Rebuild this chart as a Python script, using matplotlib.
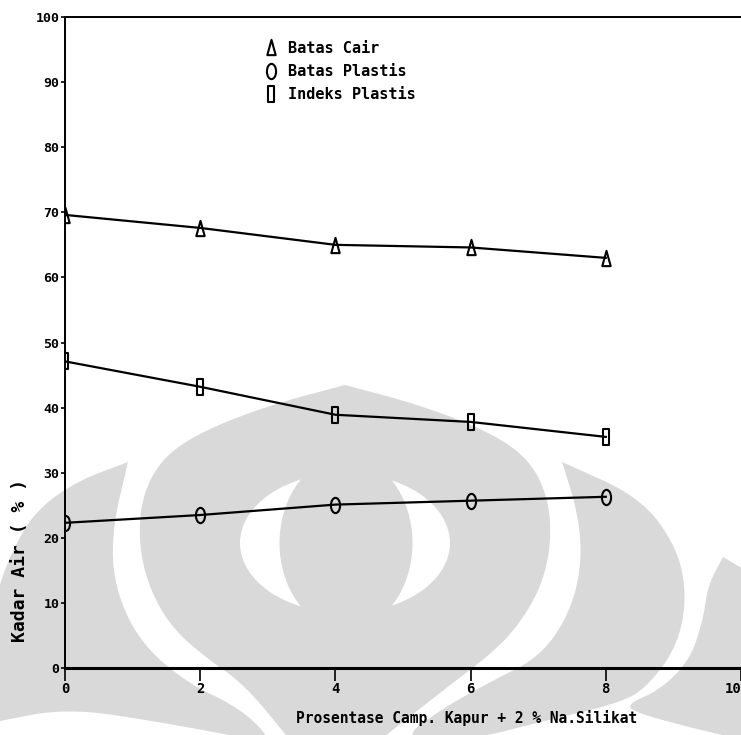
import matplotlib
matplotlib.use("Agg")
import matplotlib.pyplot as plt
import numpy as np
from matplotlib.path import Path
from matplotlib.patches import Polygon, Ellipse

# Data
x_pct = [0, 2, 4, 6, 8]
batas_cair = [69.6, 67.6, 65.0, 64.6, 63.0]
batas_plastis = [22.3, 23.5, 25.1, 25.7, 26.3]
indeks_plastis = [47.1, 43.2, 38.9, 37.8, 35.5]

series_labels = ["Batas Cair", "Batas Plastis", "Indeks Plastis"]
x_ticks = [0, 2, 4, 6, 8, 10]
y_ticks = list(range(0, 101, 10))

FONT = dict(family="DejaVu Sans Mono", weight="bold")
GRAY = "#d9d9d9"


def smooth(pts, keep=(), n=3):
    # Chaikin corner cutting on a closed outline; indices in keep stay sharp
    p = [np.array(q, float) for q in pts]
    sharp = [i in keep for i in range(len(p))]
    for _ in range(n):
        out, flags = [], []
        for i in range(len(p)):
            a, b = p[i], p[(i + 1) % len(p)]
            if sharp[i]:
                out.append(a)
                flags.append(True)
            out.append(0.75 * a + 0.25 * b)
            flags.append(False)
            out.append(0.25 * a + 0.75 * b)
            flags.append(False)
        p, sharp = out, flags
    return np.array(p)


# tall, narrow markers like the dot-matrix print
_c = Path.unit_circle()
m_circle = Path(_c.vertices * [0.6, 1.0], _c.codes)
m_square = Path([(-0.45, -1), (0.45, -1), (0.45, 1), (-0.45, 1), (-0.45, -1)],
                [Path.MOVETO, Path.LINETO, Path.LINETO, Path.LINETO, Path.CLOSEPOLY])
m_tri = Path([(-0.55, -1), (0.55, -1), (0, 1), (-0.55, -1)],
             [Path.MOVETO, Path.LINETO, Path.LINETO, Path.CLOSEPOLY])

fig = plt.figure(figsize=(7.41, 7.35), dpi=100)

# faint logo watermark behind the chart (pixel coords, y downwards)
bg = fig.add_axes([0, 0, 1, 1], zorder=0)
bg.set_xlim(0, 741)
bg.set_ylim(735, 0)
bg.axis("off")

left_horn = [(128, 462), (75, 482), (33, 513), (8, 560), (-5, 600), (-5, 722),
             (67, 708), (160, 722), (255, 740), (272, 740), (240, 708),
             (185, 682), (138, 640), (114, 585), (112, 530)]
right_horn = [(562, 462), (640, 497), (677, 547), (687, 597), (677, 647),
              (647, 687), (620, 703), (540, 722), (470, 740), (400, 740),
              (440, 710), (490, 682), (540, 657), (570, 613), (582, 563),
              (578, 513)]
far_right = [(723, 557), (745, 570), (745, 740), (700, 730), (640, 714),
             (625, 705), (660, 690), (690, 660), (703, 620), (708, 585)]
dome = [(345, 385), (420, 405), (490, 432), (530, 460), (549, 500), (551, 547),
        (540, 590), (515, 630), (487, 657), (450, 685), (380, 740), (290, 740),
        (245, 685), (205, 657), (172, 628), (150, 590), (139, 547), (141, 500),
        (160, 460), (200, 432), (270, 405)]
bg.add_patch(Polygon(smooth(left_horn, keep=(0, 4, 5)), facecolor=GRAY, edgecolor="none"))
bg.add_patch(Polygon(smooth(right_horn, keep=(0,)), facecolor=GRAY, edgecolor="none"))
bg.add_patch(Polygon(smooth(far_right, keep=(0, 1, 2)), facecolor=GRAY, edgecolor="none"))
bg.add_patch(Polygon(smooth(dome, keep=(0, 10, 11)), facecolor=GRAY, edgecolor="none"))
bg.add_patch(Ellipse((345, 543), 210, 140, facecolor="white", edgecolor="none"))
bg.add_patch(Ellipse((346, 543), 133, 173, facecolor=GRAY, edgecolor="none"))

# main chart
ax = fig.add_axes([65 / 741, 67 / 735, 676 / 741, 651 / 735], zorder=1)
ax.patch.set_alpha(0)

line_kw = dict(color="black", linewidth=1.6, markersize=11,
               markerfacecolor="none", markeredgecolor="black", markeredgewidth=1.5)
ax.plot(x_pct, batas_cair, marker=m_tri, label=series_labels[0], **line_kw)
ax.plot(x_pct, batas_plastis, marker=m_circle, label=series_labels[1], **line_kw)
ax.plot(x_pct, indeks_plastis, marker=m_square, label=series_labels[2], **line_kw)

ax.set_xlim(0, 10)
ax.set_ylim(0, 100)
ax.set_xticks(x_ticks)
ax.set_yticks(y_ticks)
ax.set_xticklabels([str(t) for t in x_ticks], fontsize=10, **FONT)
ax.set_yticklabels([str(t) for t in y_ticks], fontsize=9.5, **FONT)
ax.tick_params(axis="x", direction="out", length=9, width=1.2, pad=1)
ax.tick_params(axis="y", direction="out", length=3, width=1.2, pad=1)
ax.get_xticklabels()[-1].set_horizontalalignment("right")

ax.spines["right"].set_visible(False)
for s in ("left", "top"):
    ax.spines[s].set_linewidth(1.4)
ax.spines["bottom"].set_linewidth(2.2)

leg = ax.legend(loc="upper left", bbox_to_anchor=(0.275, 0.985), frameon=False,
                handlelength=0.8, handletextpad=0.7, labelspacing=0.55,
                prop=dict(size=11, **FONT))
for h in leg.legend_handles:
    h.set_linestyle("none")

fig.text(467 / 741, 1 - 718 / 735, "Prosentase Camp. Kapur + 2 % Na.Silikat",
         ha="center", va="center", fontsize=10.5, **FONT)
fig.text(20 / 741, 1 - 560 / 735, "Kadar Air ( % )", rotation=90,
         ha="center", va="center", fontsize=13, **FONT)

fig.savefig("out.png", dpi=100)
